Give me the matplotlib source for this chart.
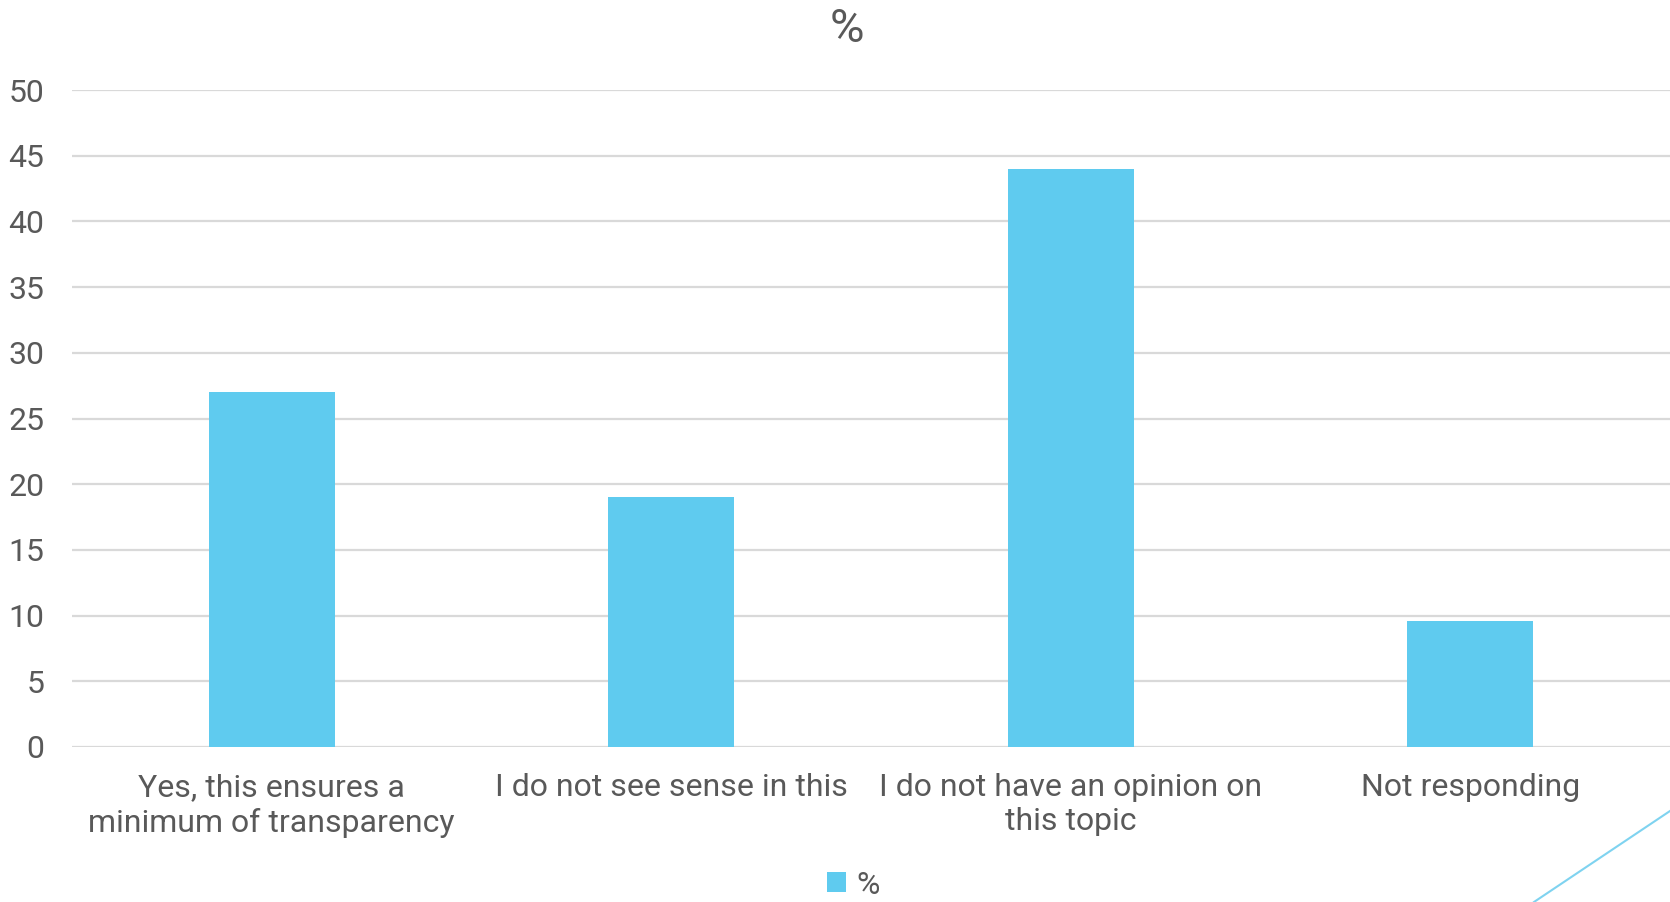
import numpy as np
import matplotlib
matplotlib.use("Agg")
import matplotlib.pyplot as plt
from matplotlib.lines import Line2D

categories = ["Yes, this ensures a\nminimum of transparency",
              "I do not see sense in this",
              "I do not have an opinion on\nthis topic",
              "Not responding"]
values = [27, 19, 44, 9.6]
y_ticks = [0, 5, 10, 15, 20, 25, 30, 35, 40, 45, 50]
series_name = "%"

bar_color = "#5FCBEF"
text_color = "#595959"
grid_color = "#D9D9D9"

plt.rcParams["font.family"] = ["Roboto", "DejaVu Sans"]

fig = plt.figure(figsize=(16.7, 9.02), dpi=100)
ax = fig.add_axes([72 / 1670, 1 - 747 / 902, 1 - 72 / 1670, (747 - 90) / 902])

x = np.arange(len(categories))
ax.bar(x, values, width=0.315, color=bar_color, zorder=3, label=series_name)

ax.set_xlim(-0.5, len(categories) - 0.5)
ax.set_ylim(0, 50)
ax.set_yticks(y_ticks)
ax.set_xticks(x)
ax.set_xticklabels(categories, fontsize=23, color=text_color, linespacing=1.22)
ax.tick_params(axis="y", labelsize=23, labelcolor=text_color, length=0, pad=20)
ax.tick_params(axis="x", length=0, pad=19)
ax.grid(axis="y", color=grid_color, linewidth=1.6, zorder=0)
for s in ax.spines.values():
    s.set_visible(False)

fig.text(0.507, 1 - 29 / 902, "%", ha="center", va="center",
         fontsize=34, color=text_color)

leg = fig.legend(loc="center", bbox_to_anchor=(0.511, 1 - 885 / 902), frameon=False,
                 fontsize=23, labelcolor=text_color, handlelength=0.6,
                 handleheight=0.6, handletextpad=0.35)

# decorative slide line bottom-right
fig.add_artist(Line2D([1534 / 1670, 1.0], [0, 1 - 811 / 902],
                      color="#7FD3F0", linewidth=1.5))

fig.savefig("out.png", dpi=100)
